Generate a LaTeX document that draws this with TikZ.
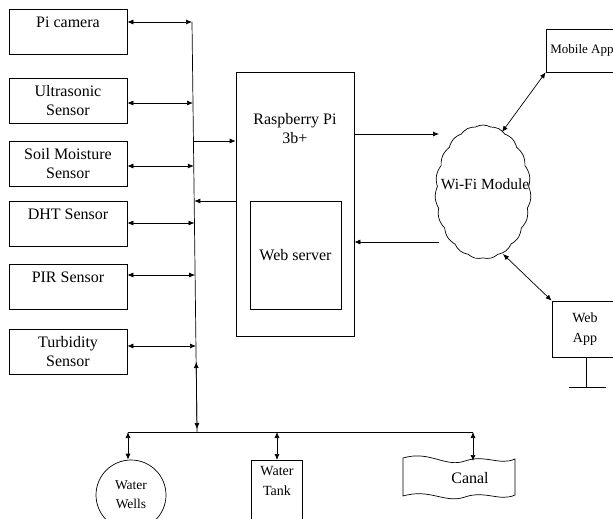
\documentclass[tikz,border=0pt]{standalone}
\usepackage{fontspec}
\setmainfont{Liberation Serif}
\usetikzlibrary{arrows.meta,shapes.symbols}

\begin{document}
\begin{tikzpicture}[x=1pt,y=-1pt,>={Latex[length=6pt,width=5pt]},line width=0.7pt]
      \useasboundingbox (0,0) rectangle (613,519);
      \tikzset{B/.style = {shape=rectangle, draw, align=center, font=\fontsize{16}{19}\selectfont}}
      \tikzset{S/.style = {B, minimum width=118pt, minimum height=45pt}}
      \tikzset{E/.style = {draw,->}}
      \tikzset{D/.style = {draw,<->}}
      % sensors
      \node[S](cam) at (68,32) {Pi camera\\~};
      \node[S](ultra) at (68,101) {Ultrasonic\\Sensor};
      \node[S](soil) at (68,164) {Soil Moisture\\Sensor};
      \node[S](dht) at (68,224) {DHT Sensor\\~};
      \node[S](pir) at (68,286.5) {PIR Sensor\\~};
      \node[S](turb) at (68,351.5) {Turbidity\\Sensor};
      % bus
      \coordinate (b0) at (192,22);
      \coordinate (b1) at (193,103);
      \coordinate (bi) at (193.4,141);
      \coordinate (b2) at (193.8,166);
      \coordinate (bo) at (194.3,201);
      \coordinate (b3) at (194.5,223);
      \coordinate (b4) at (195.1,275);
      \coordinate (b5) at (196,346);
      \coordinate (b6) at (196.2,362);
      \coordinate (b7) at (197,429);
      \coordinate (b8) at (197,432);
      \draw (b0) to (b8);
      \draw[D] (cam.east |- b0) to (b0);
      \draw[D] (ultra.east |- b1) to (b1);
      \draw[D] (soil.east |- b2) to (b2);
      \draw[D] (dht.east |- b3) to (b3);
      \draw[D] (pir.east |- b4) to (b4);
      \draw[D] (turb.east |- b5) to (b5);
      \draw[D] (b6) to (b7);
      % raspberry pi
      \node[B, minimum width=118pt, minimum height=264pt](rpi) at (295,204) {};
      \node[align=center, font=\fontsize{16}{19}\selectfont](rpit) at (295,129) {Raspberry Pi\\3b+};
      \node[B, minimum width=91pt, minimum height=108pt](web) at (295.5,255) {Web server};
      \draw[E] (bi) to (rpi.west |- bi);
      \draw[E] (rpi.west |- bo) to (bo);
      % wifi
      \node[cloud, draw, cloud puffs=19, cloud puff arc=60, cloud ignores aspect, minimum width=96pt, minimum height=134pt, inner sep=0pt](wifi) at (483,192) {};
      \node[font=\fontsize{15.5}{18}\selectfont, inner sep=0pt](wifit) at (485,184) {Wi-Fi Module};
      \coordinate (w1) at (439,134);
      \coordinate (w2) at (439,242);
      \coordinate (w3) at (502,132);
      \coordinate (w4) at (503,254);
      \draw[E] (rpi.east |- w1) to (w1);
      \draw[E] (w2) to (rpi.east |- w2);
      \node[B, minimum width=72pt, minimum height=43pt, font=\fontsize{13}{15}\selectfont](mob) at (582,50.5) {Mobile App};
      \draw[D] (w3) to (mob.south west);
      \node[B, minimum width=66pt, minimum height=56pt, font=\fontsize{14}{20}\selectfont](wapp) at (585,329) {Web\\App};
      \draw[D] (w4) to (wapp.north west);
      \coordinate (foot) at (586,387);
      \draw (wapp.south -| foot) to (foot);
      \draw ([xshift=-17pt]foot) to ([xshift=20pt]foot);
      % water sources
      \coordinate (h0) at (128,432);
      \coordinate (h1) at (277,432);
      \coordinate (h2) at (473,432);
      \draw (h0) to (h2);
      \node[draw, circle, minimum size=70pt, inner sep=0pt, align=center, font=\fontsize{13.5}{19}\selectfont](wells) at (131,495) {Water\\Wells};
      \draw[D] (h0) to (h0 |- wells.north);
      \node[B, anchor=north, minimum width=51pt, text depth=60pt, inner ysep=6pt, font=\fontsize{14}{20}\selectfont](tank) at (277,460) {Water\\Tank};
      \draw[D] (h1) to (tank.north);
      \node[font=\fontsize{16}{19}\selectfont](canal) at (470,478) {Canal};
      \coordinate (ctop) at (473,461);
      \draw (403,458) .. controls (430,450) and (445,468) .. (465,461) .. controls (485,454) and (500,466) .. (515,459)
        -- (515,495) .. controls (500,502) and (485,490) .. (465,497) .. controls (445,504) and (430,488) .. (403,496) -- cycle;
      \draw[D] (h2) to (ctop);
\end{tikzpicture}
\end{document}
